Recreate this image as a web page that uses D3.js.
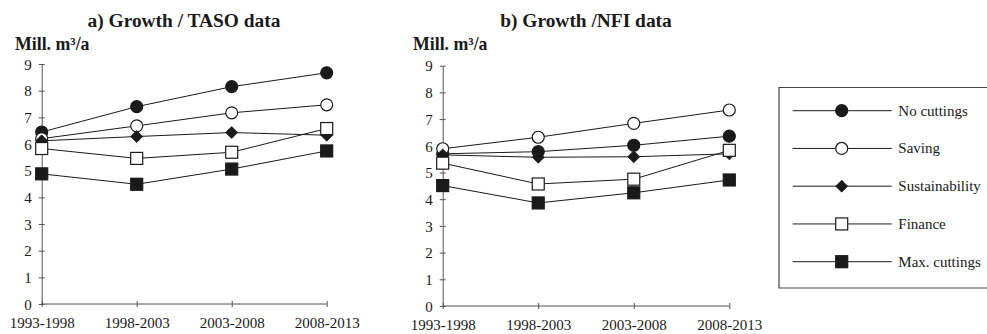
<!DOCTYPE html>
<html>
<head>
<meta charset="utf-8">
<script src="https://cdn.jsdelivr.net/npm/d3@7"></script>
<style>
  html, body { margin: 0; padding: 0; background: #fff; }
  svg { display: block; font-family: "Liberation Serif", "Times New Roman", serif; }
</style>
</head>
<body>
<svg id="chart" width="987" height="334"></svg>
<script>
// Periods on the x axis
const periods = ["1993-1998", "1998-2003", "2003-2008", "2008-2013"];
const yTicks = [0, 1, 2, 3, 4, 5, 6, 7, 8, 9];

// Scenario names (legend order)
const scenarios = ["No cuttings", "Saving", "Sustainability", "Finance", "Max. cuttings"];

// a) Growth, TASO data (mill. m3/a)
const tasoNoCuttings   = [6.45, 7.40, 8.15, 8.67];
const tasoSaving       = [6.20, 6.68, 7.17, 7.47];
const tasoSustain      = [6.12, 6.28, 6.43, 6.33];
const tasoFinance      = [5.83, 5.46, 5.69, 6.58];
const tasoMaxCuttings  = [4.88, 4.49, 5.06, 5.74];

// b) Growth, NFI data (mill. m3/a)
const nfiNoCuttings    = [5.70, 5.78, 6.02, 6.36];
const nfiSaving        = [5.89, 6.32, 6.84, 7.34];
const nfiSustain       = [5.66, 5.57, 5.59, 5.70];
const nfiFinance       = [5.35, 4.57, 4.75, 5.83];
const nfiMaxCuttings   = [4.51, 3.86, 4.24, 4.72];

const markerKinds = ["circleFilled", "circleOpen", "diamond", "squareOpen", "squareFilled"];

const ink = "#1a1a1a";
const svg = d3.select("#chart");

function drawMarker(g, kind, x, y) {
  if (kind === "circleFilled" || kind === "circleOpen") {
    g.append("circle").attr("cx", x).attr("cy", y).attr("r", 6)
      .attr("fill", kind === "circleFilled" ? ink : "#fff")
      .attr("stroke", ink).attr("stroke-width", 1.2);
  } else if (kind === "squareFilled" || kind === "squareOpen") {
    g.append("rect").attr("x", x - 6).attr("y", y - 6).attr("width", 12).attr("height", 12)
      .attr("fill", kind === "squareFilled" ? ink : "#fff")
      .attr("stroke", ink).attr("stroke-width", 1.2);
  } else {
    const s = 6;
    g.append("path")
      .attr("d", `M${x},${y - s}L${x + s},${y}L${x},${y + s}L${x - s},${y}Z`)
      .attr("fill", ink).attr("stroke", ink).attr("stroke-width", 0.8);
  }
}

function panel(opts) {
  const g = svg.append("g");
  const x = d3.scalePoint().domain(periods).range([opts.x0, opts.x1]);
  const y = d3.scaleLinear().domain([0, 9]).range([opts.yBottom, opts.yTop]);

  // y axis with ticks crossing the line
  const ya = g.append("g").attr("transform", `translate(${opts.x0},0)`)
    .call(d3.axisLeft(y).tickValues(yTicks).tickSize(3).tickPadding(7).tickSizeOuter(0));
  ya.select(".domain").attr("stroke", "#555").attr("stroke-width", 1);
  ya.selectAll(".tick line").attr("x1", 3).attr("x2", -3).attr("stroke", "#555");
  ya.selectAll(".tick text").attr("font-size", 15).attr("fill", ink)
    .attr("font-family", "Liberation Serif").attr("dy", "0.35em");

  // x axis
  const xa = g.append("g").attr("transform", `translate(0,${opts.yBottom})`)
    .call(d3.axisBottom(x).tickSize(3).tickPadding(10).tickSizeOuter(0));
  xa.select(".domain").attr("stroke", "#555").attr("stroke-width", 1)
    .attr("d", `M${opts.x0},0H${opts.x1}`);
  xa.selectAll(".tick line").attr("y1", -3).attr("y2", 3).attr("stroke", "#555");
  xa.selectAll(".tick text").attr("font-size", 15).attr("fill", ink)
    .attr("font-family", "Liberation Serif");

  // title and unit
  g.append("text").attr("x", opts.titleX).attr("y", 27).attr("text-anchor", "middle")
    .attr("font-size", 19.4).attr("font-weight", "bold").attr("fill", ink).text(opts.title);
  g.append("text").attr("x", opts.unitX).attr("y", 50)
    .attr("font-size", 17.8).attr("font-weight", "bold").attr("fill", ink).text("Mill. m³/a");

  const line = d3.line().x((d, i) => x(periods[i])).y(d => y(d));
  opts.series.forEach((vals, si) => {
    const sg = g.append("g");
    sg.append("path").attr("d", line(vals)).attr("fill", "none")
      .attr("stroke", ink).attr("stroke-width", 1);
    vals.forEach((v, i) => drawMarker(sg, markerKinds[si], x(periods[i]), y(v)));
  });
}

panel({
  x0: 41.7, x1: 326.7, yBottom: 304, yTop: 64,
  title: "a) Growth / TASO data", titleX: 184, unitX: 15,
  series: [tasoNoCuttings, tasoSaving, tasoSustain, tasoFinance, tasoMaxCuttings]
});

panel({
  x0: 442.7, x1: 729.3, yBottom: 306, yTop: 65.7,
  title: "b) Growth /NFI data", titleX: 586, unitX: 413,
  series: [nfiNoCuttings, nfiSaving, nfiSustain, nfiFinance, nfiMaxCuttings]
});

// Legend box (open on the right)
const lg = svg.append("g");
lg.append("path").attr("d", "M990,87.5H779V288H990")
  .attr("fill", "none").attr("stroke", "#444").attr("stroke-width", 1.2);
const rowY = d3.scaleLinear().domain([0, 4]).range([110.7, 261.7]);
scenarios.forEach((name, i) => {
  const yy = rowY(i);
  lg.append("line").attr("x1", 792.7).attr("x2", 891.7).attr("y1", yy).attr("y2", yy)
    .attr("stroke", ink).attr("stroke-width", 1);
  drawMarker(lg, markerKinds[i], 841.7, yy);
  lg.append("text").attr("x", 898.3).attr("y", yy + 5).attr("font-size", 15)
    .attr("fill", ink).text(name);
});
</script>
</body>
</html>
